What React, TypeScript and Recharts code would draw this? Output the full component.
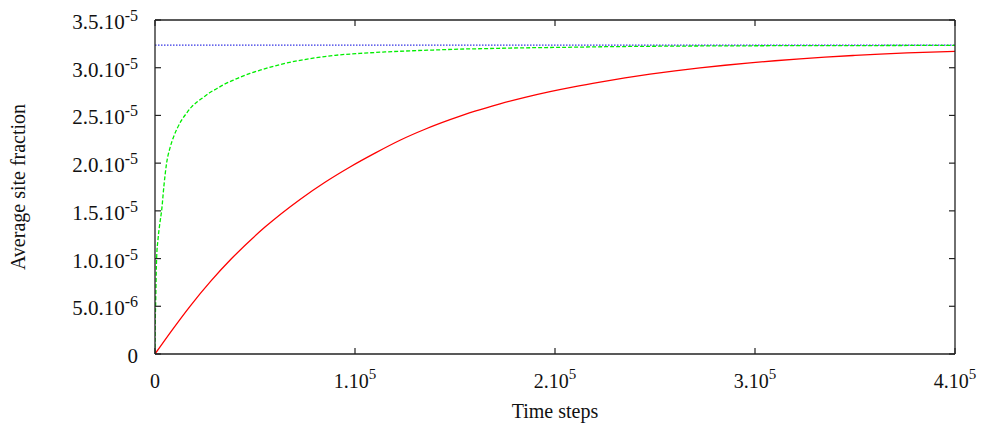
import React from 'react';
import { LineChart, Line, XAxis, YAxis } from 'recharts';

// ---- data ----
const greenTimes = [0, 100, 300, 800, 1500, 2500, 3300, 4500, 5800, 7500, 9200, 11000, 13300, 16000, 18300, 21000, 24200, 27500, 30800, 35000, 39200, 43000, 47500, 52000, 56700, 65000, 77500, 90000, 102500, 115000, 127500, 140000, 152500, 165000, 177500, 190000, 202500, 225000, 250000, 300000, 350000, 400000];
const greenValues = [0, 3.0e-6, 5.0e-6, 1.0e-5, 1.2e-5, 1.38e-5, 1.5e-5, 1.77e-5, 2.0e-5, 2.16e-5, 2.27e-5, 2.36e-5, 2.45e-5, 2.53e-5, 2.59e-5, 2.64e-5, 2.69e-5, 2.74e-5, 2.78e-5, 2.83e-5, 2.87e-5, 2.905e-5, 2.94e-5, 2.97e-5, 3.0e-5, 3.045e-5, 3.095e-5, 3.13e-5, 3.15e-5, 3.165e-5, 3.177e-5, 3.186e-5, 3.195e-5, 3.2e-5, 3.206e-5, 3.21e-5, 3.213e-5, 3.22e-5, 3.225e-5, 3.23e-5, 3.232e-5, 3.234e-5];

const redTimes = [0, 8000, 17500, 28000, 38300, 55000, 72500, 85000, 97500, 110000, 122500, 135000, 147500, 160000, 172500, 185000, 197500, 210000, 222500, 235000, 247500, 260000, 272500, 285000, 297500, 310000, 322500, 335000, 349000, 362500, 376000, 388000, 400000];
const redValues = [0, 2.35e-6, 5.0e-6, 7.66e-6, 1.0e-5, 1.33e-5, 1.62e-5, 1.8e-5, 1.96e-5, 2.105e-5, 2.24e-5, 2.355e-5, 2.455e-5, 2.545e-5, 2.622e-5, 2.69e-5, 2.75e-5, 2.803e-5, 2.85e-5, 2.893e-5, 2.932e-5, 2.967e-5, 2.998e-5, 3.026e-5, 3.051e-5, 3.073e-5, 3.093e-5, 3.111e-5, 3.128e-5, 3.143e-5, 3.155e-5, 3.164e-5, 3.171e-5];

const saturationTimes = [0, 400000];
const saturationValues = [3.237e-5, 3.237e-5];

const xTicks = [0, 100000, 200000, 300000, 400000];
const xTickBases = ['0', '1.10', '2.10', '3.10', '4.10'];
const xTickExps = ['', '5', '5', '5', '5'];

const yTicks = [0, 5e-6, 1e-5, 1.5e-5, 2e-5, 2.5e-5, 3e-5, 3.5e-5];
const yTickBases = ['0', '5.0.10', '1.0.10', '1.5.10', '2.0.10', '2.5.10', '3.0.10', '3.5.10'];
const yTickExps = ['', '-6', '-5', '-5', '-5', '-5', '-5', '-5'];

const xLabel = 'Time steps';
const yLabel = 'Average site fraction';

// ---- build series ----
const zip = (ts: number[], vs: number[]) => ts.map((t, i) => ({ t, v: vs[i] }));
const greenData = zip(greenTimes, greenValues);
const redData = zip(redTimes, redValues);
const satData = zip(saturationTimes, saturationValues);

const FONT = '"Liberation Serif", "Times New Roman", serif';
const AXIS_COLOR = '#222';
const TICK_LEN = 6;

const XTickBottom = (props: any) => {
  const { x, y, payload } = props;
  const i = xTicks.indexOf(payload.value);
  return (
    <g>
      <line x1={x} y1={y} x2={x} y2={y - TICK_LEN} stroke={AXIS_COLOR} strokeWidth={1.2} />
      <text x={x} y={y + 34} textAnchor="middle" fontFamily={FONT} fontSize={20} fill="#111">
        <tspan>{xTickBases[i]}</tspan>
        {xTickExps[i] ? <tspan dy={-9} fontSize={15}>{xTickExps[i]}</tspan> : null}
      </text>
    </g>
  );
};

const XTickTop = (props: any) => {
  const { x, y } = props;
  return <line x1={x} y1={y} x2={x} y2={y + TICK_LEN} stroke={AXIS_COLOR} strokeWidth={1.2} />;
};

const YTickLeft = (props: any) => {
  const { x, y, payload } = props;
  const i = yTicks.findIndex((v) => Math.abs(v - payload.value) < 1e-12);
  return (
    <g>
      <line x1={x} y1={y} x2={x + TICK_LEN} y2={y} stroke={AXIS_COLOR} strokeWidth={1.2} />
      <text x={x - 17} y={y + 9} textAnchor="end" fontFamily={FONT} fontSize={21} fill="#111">
        <tspan>{yTickBases[i]}</tspan>
        {yTickExps[i] ? <tspan dy={-8} fontSize={16}>{yTickExps[i]}</tspan> : null}
      </text>
    </g>
  );
};

const YTickRight = (props: any) => {
  const { x, y } = props;
  return <line x1={x} y1={y} x2={x - TICK_LEN} y2={y} stroke={AXIS_COLOR} strokeWidth={1.2} />;
};

const XAxisLabel = (props: any) => {
  const vb = props.viewBox || {};
  return (
    <text x={vb.x + vb.width / 2} y={vb.y + 64} textAnchor="middle" fontFamily={FONT} fontSize={20} fill="#111">
      {xLabel}
    </text>
  );
};

const YAxisLabel = (props: any) => {
  const vb = props.viewBox || {};
  const cx = vb.x + 25;
  const cy = vb.y + vb.height / 2;
  return (
    <text x={cx} y={cy} transform={`rotate(-90, ${cx}, ${cy})`} textAnchor="middle" fontFamily={FONT} fontSize={20} fill="#111">
      {yLabel}
    </text>
  );
};

export default function App() {
  return (
    <div style={{ position: 'absolute', left: 0, top: 0, width: 984, height: 430, background: '#fff' }}>
      <LineChart width={984} height={430} margin={{ top: 19, right: 28, bottom: 0, left: 0 }}>
        <XAxis
          xAxisId="main"
          dataKey="t"
          type="number"
          domain={[0, 400000]}
          ticks={xTicks}
          allowDataOverflow
          height={76}
          tickSize={0}
          tickMargin={0}
          tickLine={false}
          axisLine={{ stroke: AXIS_COLOR, strokeWidth: 1.3 }}
          tick={<XTickBottom />}
          interval={0}
          label={XAxisLabel}
        />
        <XAxis
          xAxisId="top"
          orientation="top"
          dataKey="t"
          type="number"
          domain={[0, 400000]}
          ticks={xTicks}
          allowDataOverflow
          height={1}
          tickSize={0}
          tickMargin={0}
          tickLine={false}
          axisLine={{ stroke: AXIS_COLOR, strokeWidth: 1.3 }}
          tick={<XTickTop />}
          interval={0}
        />
        <YAxis
          yAxisId="main"
          type="number"
          domain={[0, 3.5e-5]}
          ticks={yTicks}
          allowDataOverflow
          width={155}
          tickSize={0}
          tickMargin={0}
          tickLine={false}
          axisLine={{ stroke: AXIS_COLOR, strokeWidth: 1.3 }}
          tick={<YTickLeft />}
          interval={0}
          label={YAxisLabel}
        />
        <YAxis
          yAxisId="right"
          orientation="right"
          type="number"
          domain={[0, 3.5e-5]}
          ticks={yTicks}
          allowDataOverflow
          width={1}
          tickSize={0}
          tickMargin={0}
          tickLine={false}
          axisLine={{ stroke: AXIS_COLOR, strokeWidth: 1.3 }}
          tick={<YTickRight />}
          interval={0}
        />
        {/* invisible series so the mirrored frame axes (top/right) are rendered */}
        <Line
          xAxisId="top"
          yAxisId="right"
          data={satData}
          dataKey="v"
          stroke="none"
          dot={false}
          activeDot={false}
          isAnimationActive={false}
        />
        <Line
          xAxisId="main"
          yAxisId="main"
          data={satData}
          dataKey="v"
          stroke="#0000dd"
          strokeWidth={1}
          strokeDasharray="1.5 1.5"
          dot={false}
          activeDot={false}
          isAnimationActive={false}
        />
        <Line
          xAxisId="main"
          yAxisId="main"
          data={greenData}
          dataKey="v"
          type="monotone"
          stroke="#00ee00"
          strokeWidth={1.3}
          strokeDasharray="4 2"
          dot={false}
          activeDot={false}
          isAnimationActive={false}
        />
        <Line
          xAxisId="main"
          yAxisId="main"
          data={redData}
          dataKey="v"
          type="monotone"
          stroke="#ff0000"
          strokeWidth={1.3}
          dot={false}
          activeDot={false}
          isAnimationActive={false}
        />
      </LineChart>
    </div>
  );
}
